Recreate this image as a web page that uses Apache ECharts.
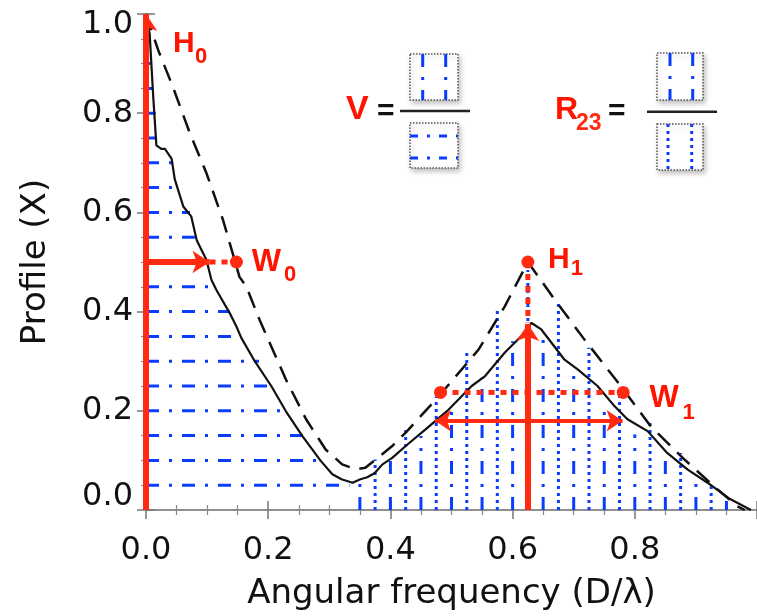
<!DOCTYPE html>
<html>
<head>
<meta charset="utf-8">
<script src="https://cdn.jsdelivr.net/npm/echarts@6/dist/echarts.min.js"></script>
<style>
  html, body { margin: 0; padding: 0; background: #fff; }
  #chart { width: 757px; height: 616px; }
</style>
</head>
<body>
<div id="chart"></div>
<script>
  const profile = [
    [0, 1.0], [0.006, 0.96], [0.012, 0.83], [0.017, 0.735], [0.025, 0.728], [0.031, 0.728],
    [0.042, 0.708], [0.047, 0.667], [0.061, 0.612], [0.074, 0.592], [0.083, 0.544],
    [0.099, 0.504], [0.107, 0.464], [0.115, 0.444], [0.137, 0.397], [0.148, 0.37],
    [0.156, 0.347], [0.178, 0.30], [0.205, 0.25], [0.229, 0.199], [0.256, 0.149],
    [0.286, 0.099], [0.305, 0.072], [0.320, 0.062], [0.338, 0.055], [0.351, 0.062],
    [0.362, 0.066], [0.374, 0.074], [0.387, 0.092], [0.403, 0.105], [0.425, 0.129],
    [0.457, 0.162], [0.495, 0.202], [0.533, 0.25], [0.555, 0.27], [0.587, 0.317],
    [0.617, 0.354], [0.631, 0.377], [0.647, 0.364], [0.685, 0.303], [0.707, 0.283],
    [0.739, 0.25], [0.767, 0.209], [0.788, 0.183], [0.821, 0.159], [0.853, 0.115],
    [0.886, 0.082], [0.919, 0.055], [0.956, 0.022], [0.99, 0.0]
  ]
  const model = [
    [0, 1.0], [0.02, 0.927], [0.044, 0.853], [0.072, 0.759], [0.099, 0.679], [0.126, 0.585],
    [0.153, 0.47], [0.164, 0.451], [0.186, 0.383], [0.229, 0.263], [0.262, 0.183],
    [0.294, 0.122], [0.321, 0.092], [0.343, 0.082], [0.359, 0.085], [0.376, 0.102],
    [0.403, 0.129], [0.425, 0.156], [0.479, 0.229], [0.544, 0.323], [0.587, 0.41],
    [0.625, 0.5], [0.669, 0.424], [0.718, 0.343], [0.777, 0.25], [0.826, 0.169],
    [0.881, 0.102], [0.935, 0.042], [0.967, 0.008], [0.98, 0.0]
  ]

  // horizontal fill lines (V denominator): level and where each one stops
  const hLevels = [0.05, 0.10, 0.15, 0.20, 0.25, 0.30, 0.35, 0.40, 0.45, 0.50,
                   0.55, 0.60, 0.65, 0.70, 0.75, 0.80, 0.85, 0.90, 0.95]
  const hEnds = [0.333, 0.288, 0.259, 0.232, 0.205, 0.185, 0.153, 0.137, 0.112, 0.100,
                 0.080, 0.072, 0.047, 0.043, 0.017, 0.016, 0.011, 0.007, 0.004]

  // vertical fill lines: even = dash-dot, odd = dotted
  const vPos = [0.350, 0.375, 0.400, 0.425, 0.450, 0.475, 0.500, 0.525, 0.550, 0.575,
                0.600, 0.625, 0.650, 0.675, 0.700, 0.725, 0.750, 0.775, 0.800, 0.825,
                0.850, 0.875, 0.900, 0.925, 0.950]
  const vTops = [0.062, 0.102, 0.106, 0.169, 0.149, 0.229, 0.209, 0.320, 0.267, 0.404,
                 0.340, 0.484, 0.350, 0.420, 0.276, 0.327, 0.213, 0.229, 0.152, 0.179,
                 0.112, 0.115, 0.062, 0.048, 0.018]

  // red annotations
  const h0Arrow = [[0, 0], [0, 1.0]]
  const w0Arrow = [[0, 0.5], [0.104, 0.5]]
  const w0Dots = [[0.104, 0.5], [0.148, 0.5]]
  const h1Arrow = [[0.625, 0], [0.625, 0.375]]
  const h1Dots = [[0.625, 0.5], [0.625, 0.378]]
  const w1Dots = [[0.482, 0.237], [0.781, 0.237]]
  const w1Arrow = [[0.473, 0.18], [0.780, 0.18]]
  const markerPts = [[0.148, 0.5], [0.625, 0.5], [0.482, 0.237], [0.781, 0.237]]
  const annoLabels = [
    [0.044, 0.940, 'H', 30], [0.080, 0.914, '0', 22],
    [0.173, 0.499, 'W', 31], [0.226, 0.474, '0', 22],
    [0.658, 0.505, 'H', 30], [0.695, 0.487, '1', 22],
    [0.824, 0.225, 'W', 31], [0.878, 0.196, '1', 22]
  ]

  const BLUE = '#0a3cff'
  const RED = '#ff2a10'
  const TXT_RED = '#ff1400'
  const DASH_DOT = [13, 10, 3, 10]
  const DOT = [3, 4]

  const chart = echarts.init(document.getElementById('chart'))

  const seg = (data, style, z) => ({
    type: 'line', data, symbol: 'none', silent: true, z: z || 2, animation: false,
    lineStyle: Object.assign({ cap: 'butt' }, style)
  })

  const series = []
  hLevels.forEach((y, i) => {
    series.push(seg([[0, y], [hEnds[i], y]], { color: BLUE, width: 3, type: DASH_DOT }))
  })
  vPos.forEach((x, i) => {
    series.push(seg([[x, 0], [x, vTops[i]]],
      { color: BLUE, width: 3, type: i % 2 ? DOT : DASH_DOT }))
  })
  series.push(seg(model, { color: '#111', width: 2.5, type: [17, 10] }, 4))
  series.push(seg(profile, { color: '#111', width: 2.2 }, 4))

  // red dotted guides
  ;[w0Dots, h1Dots, w1Dots].forEach(d => {
    series.push(seg(d, { color: RED, width: 5, type: [6, 6] }, 6))
  })

  // red arrows
  series.push({
    type: 'lines', coordinateSystem: 'cartesian2d', z: 7, silent: true, animation: false,
    symbol: ['none', 'arrow'], symbolSize: 17,
    lineStyle: { color: RED, width: 6, opacity: 1, curveness: 0 },
    data: [{ coords: h0Arrow }, { coords: w0Arrow }, { coords: h1Arrow }]
  })
  series.push({
    type: 'lines', coordinateSystem: 'cartesian2d', z: 7, silent: true, animation: false,
    symbol: ['arrow', 'arrow'], symbolSize: 16,
    lineStyle: { color: RED, width: 4, opacity: 1, curveness: 0 },
    data: [{ coords: w1Arrow }]
  })
  series.push({
    type: 'scatter', data: markerPts, symbolSize: 13, z: 8, silent: true, animation: false,
    itemStyle: { color: RED, opacity: 1 }
  })
  series.push({
    type: 'scatter', z: 9, silent: true, animation: false, symbolSize: 0,
    itemStyle: { opacity: 1 },
    data: annoLabels.map(a => ({
      value: [a[0], a[1]],
      label: {
        show: true, position: [0, 0], align: 'left', verticalAlign: 'middle',
        formatter: a[2], color: TXT_RED, opacity: 1, fontSize: a[3], fontWeight: 'bold',
        fontFamily: '"Liberation Sans", Arial, sans-serif'
      }
    }))
  })

  const axisFont = { color: '#111', fontSize: 32, fontFamily: '"DejaVu Sans", sans-serif' }
  const axisBase = {
    type: 'value', min: 0, max: 1.0, interval: 0.2,
    splitLine: { show: false },
    axisLine: { lineStyle: { color: '#888', width: 1.5 } },
    axisTick: { inside: true, length: 9, lineStyle: { color: '#777', width: 1.5 } },
    minorTick: { show: true, splitNumber: 4, length: 5, lineStyle: { color: '#888', width: 1.2 } }
  }

  // end labels on the y axis sit inside the frame, like in the original plot
  const yLabel = v => {
    const s = v.toFixed(1)
    if (v >= 1) return '{top|' + s + '}'
    if (v <= 0) return '{bot|' + s + '}'
    return s
  }

  // inset "V =" and "R23 =" fractions with the little boxes
  const box = (x, y, w, h) => ({
    type: 'rect', z: 100, shape: { x, y, width: w, height: h },
    style: {
      fill: '#fff', stroke: '#555', lineWidth: 1.5, lineDash: [1.5, 1.5],
      shadowBlur: 5, shadowOffsetX: 2, shadowOffsetY: 3, shadowColor: 'rgba(0,0,0,0.25)'
    }
  })
  const gline = (x1, y1, x2, y2, dash, color, w) => ({
    type: 'line', z: 101, shape: { x1, y1, x2, y2 },
    style: { stroke: color || BLUE, lineWidth: w || 3, lineDash: dash || null }
  })
  const gtext = (x, y, text, size, color, extra) => ({
    type: 'text', z: 101, x, y,
    style: Object.assign({
      text, fontSize: size, fontWeight: 'bold', fill: color,
      fontFamily: '"Liberation Sans", Arial, sans-serif', verticalAlign: 'middle'
    }, extra || {})
  })

  const graphic = [
    gtext(346, 110, 'V', 34, TXT_RED),
    gtext(377, 112, '=', 30, '#111'),
    gline(400, 111, 470, 111, null, '#222', 2.5),
    box(410, 54, 48, 46),
    gline(422.7, 54, 422.7, 100, DASH_DOT),
    gline(445.7, 54, 445.7, 100, DASH_DOT),
    box(410, 123, 48, 45),
    gline(410, 136, 458, 136, [8, 9, 3, 9]),
    gline(410, 158, 458, 158, [8, 9, 3, 9]),

    gtext(555, 110, 'R', 32, TXT_RED),
    gtext(576, 124, '23', 23, RED),
    gtext(608, 112, '=', 30, '#111'),
    gline(647, 111.7, 717, 111.7, null, '#222', 2.5),
    box(657, 53, 46, 47),
    gline(670, 53, 670, 100, DASH_DOT),
    gline(692.7, 53, 692.7, 100, DASH_DOT),
    box(657, 124, 46, 46),
    gline(668, 124, 668, 170, DOT),
    gline(691.7, 124, 691.7, 170, DOT)
  ]

  chart.setOption({
    animation: false,
    backgroundColor: '#fff',
    grid: { left: 146, top: 14, width: 614, height: 497 },
    xAxis: [
      Object.assign({}, axisBase, {
        position: 'bottom',
        name: 'Angular frequency (D/λ)', nameLocation: 'middle', nameGap: 67,
        nameTextStyle: { color: '#111', fontSize: 34, fontFamily: '"DejaVu Sans", sans-serif' },
        axisLabel: Object.assign({ margin: 25, showMaxLabel: false, formatter: v => v.toFixed(1) }, axisFont)
      }),
      Object.assign({}, axisBase, { position: 'top', axisLabel: { show: false } })
    ],
    yAxis: [
      Object.assign({}, axisBase, {
        position: 'left',
        name: 'Profile (X)', nameLocation: 'middle', nameGap: 93,
        nameTextStyle: { color: '#111', fontSize: 34, fontFamily: '"DejaVu Sans", sans-serif' },
        axisLabel: Object.assign({
          margin: 13, formatter: yLabel,
          rich: {
            top: Object.assign({ padding: [22, 0, 0, 0] }, axisFont),
            bot: Object.assign({ padding: [0, 0, 26, 0] }, axisFont)
          }
        }, axisFont)
      }),
      Object.assign({}, axisBase, { position: 'right', axisLabel: { show: false } })
    ],
    graphic,
    series
  })
</script>
</body>
</html>
